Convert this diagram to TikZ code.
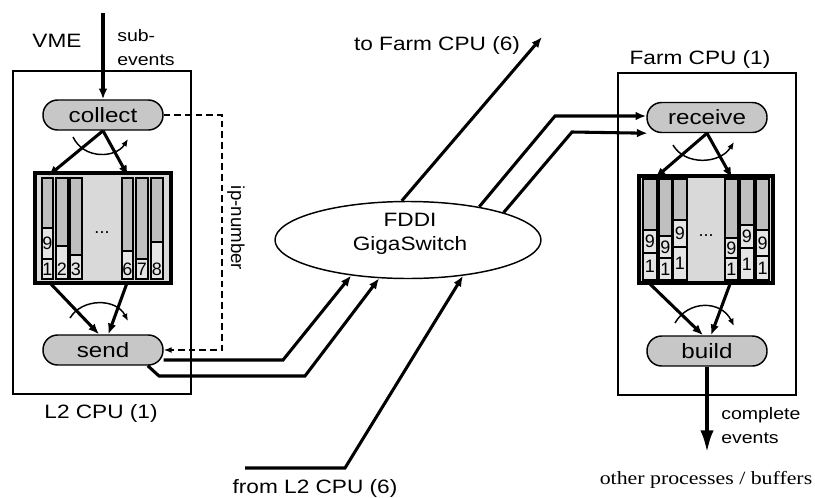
\documentclass[tikz,border=0pt]{standalone}
\usepackage{fontspec}
\setmainfont[FakeStretch=1.17]{Liberation Serif}
\setsansfont[FakeStretch=1.17]{Liberation Sans}
\newfontfamily\plainsans{Liberation Sans}
\usetikzlibrary{arrows.meta,shapes.geometric}
\tikzset{
 lbl/.style={font=\sffamily\fontsize{14.5}{17}\selectfont, inner sep=0pt},
 small/.style={font=\sffamily\fontsize{12.5}{18}\selectfont, inner sep=0pt, align=left},
 pill/.style={draw, line width=1.1pt, fill=black!22, rounded corners=11pt, minimum width=90pt, minimum height=22.5pt, inner sep=0pt, font=\sffamily\fontsize{15.5}{17}\selectfont},
 cpubox/.style={draw, line width=1pt},
 bufbox/.style={draw, line width=2.4pt, fill=black!15, inner sep=0pt},
 col/.style={draw, line width=1.1pt, fill=black!25},
 low/.style={draw, line width=1.1pt, fill=black!10},
 flow/.style={line width=2.3pt, -{Latex[length=8pt,width=6.5pt]}},
 wire/.style={line width=2.3pt},
 turn/.style={line width=1.1pt, -{Latex[length=5.5pt,width=4.5pt]}},
 ipdash/.style={dash pattern=on 5pt off 3pt, line width=1.1pt, -{Latex[length=6pt,width=4.5pt]}},
 digit/.style={font=\plainsans\fontsize{13.5}{13}\selectfont, inner sep=0pt},
 bigflow/.style={line width=3pt, -{Latex[length=17pt,width=10pt]}},
}
\begin{document}
\begin{tikzpicture}[x=0.75pt,y=-0.75pt]
\useasboundingbox (0,0) rectangle (815,497);

% ---------- left CPU ----------
\draw[cpubox] (13,71) rectangle (191,394);
\node[lbl] (vme) at (57,41) {VME};
\node[small, anchor=west] (subev) at (117,48) {sub-\\events};
\node[lbl] (l2lab) at (101,413) {L2 CPU (1)};
\node[pill] (collect) at (103,115) {collect};
\node[pill] (send) at (103,350) {send};
\node[bufbox, minimum width=102pt, minimum height=82.5pt] (bufL) at (103,228) {};
\foreach \xa/\xb/\lv/\d in {42/53/259/1, 56/68/246/2, 70/82/255/3, 122/133/251/6, 136/148/259/7, 151/163/242/8} {
  \draw[col] (\xa,178) rectangle (\xb,\lv);
  \draw[low] (\xa,\lv) rectangle (\xb,279);
  \node[digit] (dl\d) at ({(\xa+\xb)/2},269) {\d};
}
\draw[low] (42,228) rectangle (53,259);
\node[digit] (dl9) at (47.5,243.5) {9};
\node[digit] (dotsL) at (102,233) {...};

\coordinate (vmein) at (103,13);
\coordinate (L1top) at (48,176);
\coordinate (L6top) at (128,176);
\coordinate (L1bot) at (50,283);
\coordinate (L6bot) at (127,283);
\draw[flow] (vmein) -- (collect.north);
\draw[flow] (collect.south) -- (L1top);
\draw[flow] (collect.south) -- (L6top);
\draw[turn] (73,137) .. controls (84,160) and (116,158) .. (128,139);
\draw[flow] (L1bot) -- ([xshift=-3pt]send.north);
\draw[flow] (L6bot) -- ([xshift=4pt]send.north);
\draw[turn] (70,318) .. controls (82,298) and (116,298) .. (128,321);

% ip-number
\coordinate (ip1) at (222,115);
\coordinate (ip2) at (222,350);
\draw[ipdash] (collect.east) -- (ip1) -- (ip2) -- (send.east);
\node[font=\plainsans\fontsize{14}{14}\selectfont, rotate=-90, inner sep=0pt] (ipnum) at (236,228) {ip-number};

% ---------- switch ----------
\node[draw, ellipse, line width=1.1pt, minimum width=199.5pt, minimum height=57.75pt, inner sep=0pt] (switch) at (408,240) {};
\node[lbl, align=center, font=\sffamily\fontsize{14.5}{18}\selectfont] (swtext) at (410,234) {FDDI\\GigaSwitch};

\coordinate (s1a) at (283,360);
\draw[flow] ([yshift=-7.5pt]send.east) -- (s1a) -- (switch.212.5);
\coordinate (s2a) at (159,376);
\coordinate (s2b) at (305,376);
\draw[flow] ([xshift=-12pt]send.south east) -- (s2a) -- (s2b) -- (switch.233);

\coordinate (fromA) at (245,468);
\coordinate (fromB) at (345,468);
\draw[flow] (fromA) -- (fromB) -- (switch.327.5);
\node[lbl] (fromlab) at (315,488) {from L2 CPU (6)};

\coordinate (tofarm) at (542,37);
\draw[flow] (switch.99) -- (tofarm);
\node[lbl] (tolab) at (437,45) {to Farm CPU (6)};

% ---------- right CPU ----------
\draw[cpubox] (618,73) rectangle (796,395);
\node[lbl] (farmlab) at (700,59) {Farm CPU (1)};
\node[pill] (receive) at (707,117.5) {receive};
\node[pill] (build) at (707,351) {build};
\node[bufbox, minimum width=100.5pt, minimum height=80.25pt] (bufR) at (706,229.5) {};
\foreach \xa/\xb/\t/\dv [count=\i] in {643/657/230/253, 659/672/236/258, 673/687/220/247, 725/738/238/258, 740/754/225/248, 756/769/230/256} {
  \draw[col] (\xa,179) rectangle (\xb,\t);
  \draw[low] (\xa,\t) rectangle (\xb,\dv);
  \draw[low] (\xa,\dv) rectangle (\xb,280);
  \node[digit] (rn\i) at ({(\xa+\xb)/2},{(\t+\dv)/2}) {9};
  \node[digit] (ro\i) at ({(\xa+\xb)/2},{(\dv+280)/2}) {1};
}
\node[digit] (dotsR) at (706,236) {...};

\coordinate (ra) at (555,116);
\coordinate (rb) at (572,132);
\draw[flow] (switch.25) -- (ra) -- (receive.west |- ra);
\draw[flow] (switch.16) -- (rb) -- ([xshift=1pt]receive.south west);

\coordinate (R1top) at (655,178);
\coordinate (R4top) at (732,178);
\coordinate (R1bot) at (650,284);
\coordinate (R4bot) at (730,284);
\draw[flow] (receive.south) -- (R1top);
\draw[flow] (receive.south) -- (R4top);
\draw[turn] (673,145) .. controls (685,166) and (720,164) .. (734,142);
\draw[flow] (R1bot) -- ([xshift=-3pt]build.north);
\draw[flow] (R4bot) -- ([xshift=3pt]build.north);
\draw[turn] (675,323) .. controls (688,300) and (721,300) .. (734,326);

\coordinate (outend) at (707,453);
\draw[bigflow] (build.south) -- (outend);
\node[small, anchor=west] (complete) at (721,425.5) {complete\\events};
\node[font=\rmfamily\fontsize{14}{17}\selectfont, inner sep=0pt] (other) at (706,480) {other processes / buffers};
\end{tikzpicture}
\end{document}
